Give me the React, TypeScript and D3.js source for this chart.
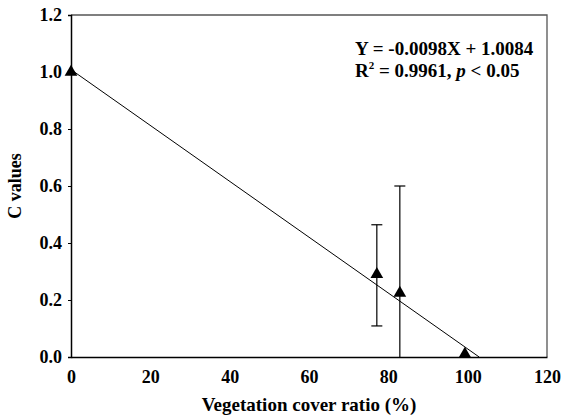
import React, { useEffect, useRef } from 'react';
import * as d3 from 'd3';

const coverRatio = [0, 77.1, 82.9, 99.3];
const cValues = [1.0, 0.29, 0.224, 0.01];
const errLow = [null, 0.109, 0.0, null];
const errHigh = [null, 0.464, 0.6, null];
const xTicks = [0, 20, 40, 60, 80, 100, 120];
const yTicks = [0, 0.2, 0.4, 0.6, 0.8, 1.0, 1.2];
const slope = -0.0098;
const intercept = 1.0084;

const App = () => {
    const ref = useRef<SVGSVGElement>(null);

    useEffect(() => {
        const width = 561;
        const height = 420;
        const margin = { top: 15, right: 14, bottom: 63, left: 71 };
        const font = '"Liberation Serif", "Times New Roman", serif';

        const svg = d3.select(ref.current);
        svg.selectAll('*').remove();

        const x = d3.scaleLinear()
            .domain([0, 120])
            .range([margin.left, width - margin.right]);

        const y = d3.scaleLinear()
            .domain([0, 1.2])
            .range([height - margin.bottom, margin.top]);

        // frame top / right
        svg.append('path')
            .attr('d', `M${x(0)},${y(1.2)}H${x(120)}V${y(0)}`)
            .attr('fill', 'none')
            .attr('stroke', '#555')
            .attr('stroke-width', 1.3);

        // y axis
        const yAxis = svg.append('g')
            .attr('transform', `translate(${margin.left},0)`)
            .call(d3.axisLeft(y).tickValues(yTicks).tickFormat(d3.format('.1f')).tickSize(3).tickPadding(6));
        yAxis.select('.domain').attr('stroke-width', 1.5);
        yAxis.selectAll('text')
            .attr('font-family', font)
            .attr('font-size', 18)
            .attr('font-weight', 'bold')
            .attr('fill', '#000');

        // x axis
        const xAxis = svg.append('g')
            .attr('transform', `translate(0,${height - margin.bottom})`)
            .call(d3.axisBottom(x).tickValues(xTicks).tickSize(0).tickPadding(13).tickSizeOuter(0));
        xAxis.select('.domain').attr('stroke-width', 1.5);
        xAxis.selectAll('text')
            .attr('font-family', font)
            .attr('font-size', 18)
            .attr('font-weight', 'bold')
            .attr('fill', '#000');

        // axis titles
        svg.append('text')
            .attr('x', (x(0) + x(120)) / 2)
            .attr('y', 411)
            .attr('text-anchor', 'middle')
            .attr('font-family', font)
            .attr('font-size', 19)
            .attr('font-weight', 'bold')
            .text('Vegetation cover ratio (%)');

        svg.append('text')
            .attr('transform', `translate(21,${(y(0) + y(1.2)) / 2}) rotate(-90)`)
            .attr('text-anchor', 'middle')
            .attr('font-family', font)
            .attr('font-size', 18)
            .attr('font-weight', 'bold')
            .text('C values');

        const data = coverRatio.map((v, i) => ({ x: v, y: cValues[i], lo: errLow[i], hi: errHigh[i] }));

        // error bars
        const eb = svg.append('g').attr('stroke', '#000').attr('stroke-width', 1.2);
        data.filter(d => d.lo !== null).forEach(d => {
            const cx = x(d.x);
            eb.append('line').attr('x1', cx).attr('x2', cx).attr('y1', y(d.lo as number)).attr('y2', y(d.hi as number));
            if ((d.lo as number) > 0) {
                eb.append('line').attr('x1', cx - 5.5).attr('x2', cx + 5.5).attr('y1', y(d.lo as number)).attr('y2', y(d.lo as number));
            }
            eb.append('line').attr('x1', cx - 5.5).attr('x2', cx + 5.5).attr('y1', y(d.hi as number)).attr('y2', y(d.hi as number));
        });

        // regression line
        const xEnd = -intercept / slope;
        const line = d3.line<number>()
            .x(d => x(d))
            .y(d => y(intercept + slope * d));
        svg.append('path')
            .datum([0, xEnd])
            .attr('d', line)
            .attr('fill', 'none')
            .attr('stroke', '#000')
            .attr('stroke-width', 1);

        // markers
        svg.append('g')
            .selectAll('path')
            .data(data)
            .join('path')
            .attr('transform', d => `translate(${x(d.x)},${y(d.y)})`)
            .attr('d', d3.symbol(d3.symbolTriangle, 70))
            .attr('fill', '#000');

        // equation
        const eq = svg.append('g')
            .attr('font-family', font)
            .attr('font-size', 19)
            .attr('font-weight', 'bold');
        eq.append('text')
            .attr('x', 355)
            .attr('y', 55)
            .text('Y = -0.0098X + 1.0084');
        const t2 = eq.append('text')
            .attr('x', 355)
            .attr('y', 77);
        t2.append('tspan').text('R');
        t2.append('tspan').attr('font-size', 11).attr('dy', -8).text('2');
        t2.append('tspan').attr('dy', 8).text(' = 0.9961, ');
        t2.append('tspan').attr('font-style', 'italic').text('p');
        t2.append('tspan').text(' < 0.05');
    }, []);

    return (
        <svg ref={ref} width={561} height={420} style={{ position: 'absolute', left: 0, top: 0, background: '#fff' }} />
    );
};

export default App;
